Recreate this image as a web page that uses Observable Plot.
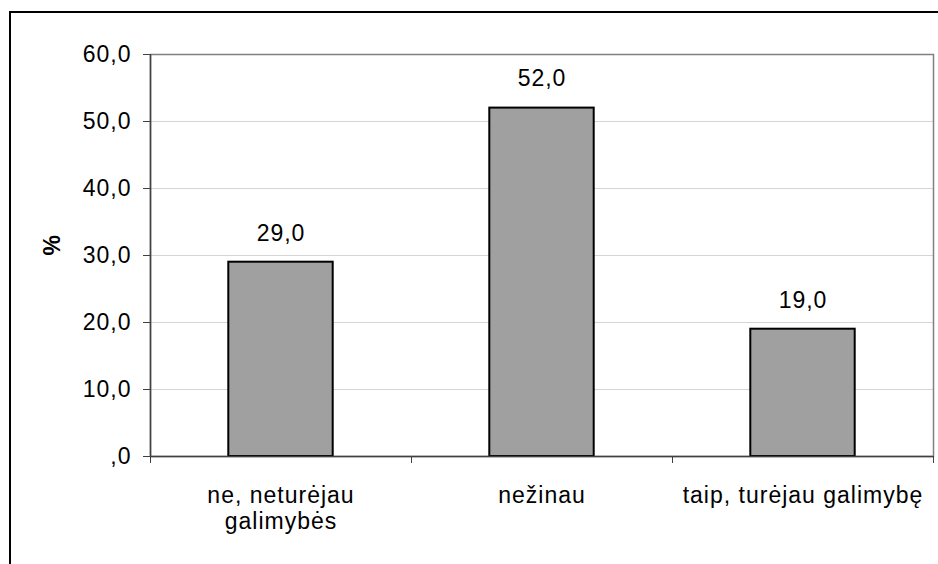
<!DOCTYPE html>
<html>
<head>
<meta charset="utf-8">
<script src="https://cdn.jsdelivr.net/npm/d3@7"></script>
<script src="https://cdn.jsdelivr.net/npm/@observablehq/plot@0.6"></script>
<style>
  html, body { margin: 0; padding: 0; background: #fff; }
  #wrap { position: relative; width: 938px; height: 564px; overflow: hidden; }
  #border { position: absolute; left: 9px; top: 11px; width: 1000px; height: 700px;
            border-left: 2px solid #000; border-top: 2px solid #000; }
  #chart { position: absolute; left: 0; top: 0; }
  svg { font-family: "Liberation Sans", Arial, sans-serif; }
</style>
</head>
<body>
<div id="wrap"><div id="border"></div><div id="chart"></div></div>
<script>
const categories = ["ne, neturėjau\ngalimybės", "nežinau", "taip, turėjau galimybę"];
const values = [29.0, 52.0, 19.0];
const yTicks = [0, 10, 20, 30, 40, 50, 60];
const gridTicks = [10, 20, 30, 40, 50];
const yLabel = "%";

const fmt = d => d === 0 ? ",0" : d.toFixed(1).replace(".", ",");
const data = categories.map((c, i) => ({category: c, value: values[i], i}));
const boundaries = d3.range(categories.length + 1);

const chart = Plot.plot({
  width: 938,
  height: 564,
  marginLeft: 150,
  marginRight: 5,
  marginTop: 54,
  marginBottom: 108,
  style: {fontSize: "23px", fontFamily: "'Liberation Sans', Arial, sans-serif", color: "#000", background: "transparent", letterSpacing: "1px"},
  x: {type: "linear", domain: [0, categories.length], axis: null},
  y: {domain: [0, 60], axis: null},
  marks: [
    Plot.ruleY(gridTicks, {stroke: "#d4d4d4", strokeWidth: 1}),
    Plot.frame({stroke: "#808080", strokeWidth: 1.5}),
    Plot.rectY(data, {x1: d => d.i + 0.3, x2: d => d.i + 0.7, y: "value", fill: "#a0a0a0", stroke: "#000", strokeWidth: 2}),
    Plot.ruleX([0], {stroke: "#404040", strokeWidth: 1.5}),
    Plot.ruleY([0], {stroke: "#404040", strokeWidth: 1.5}),
    Plot.axisY({ticks: yTicks, tickSize: 7, tickPadding: 12, tickFormat: fmt, stroke: "#404040", fontSize: 23, label: null}),
    Plot.axisX({ticks: boundaries, tickSize: 7, tickFormat: () => "", stroke: "#404040", label: null}),
    Plot.text(data, {x: d => d.i + 0.5, y: "value", text: d => fmt(d.value), dy: -29, fontSize: 23}),
    Plot.text(data, {x: d => d.i + 0.5, y: () => 0, text: "category", lineAnchor: "top", dy: 28, lineHeight: 1.13, fontSize: 23}),
    Plot.text([yLabel], {frameAnchor: "left", dx: -98, rotate: -90, fontWeight: "bold", fontSize: 23})
  ]
});
document.getElementById("chart").appendChild(chart);
</script>
</body>
</html>
